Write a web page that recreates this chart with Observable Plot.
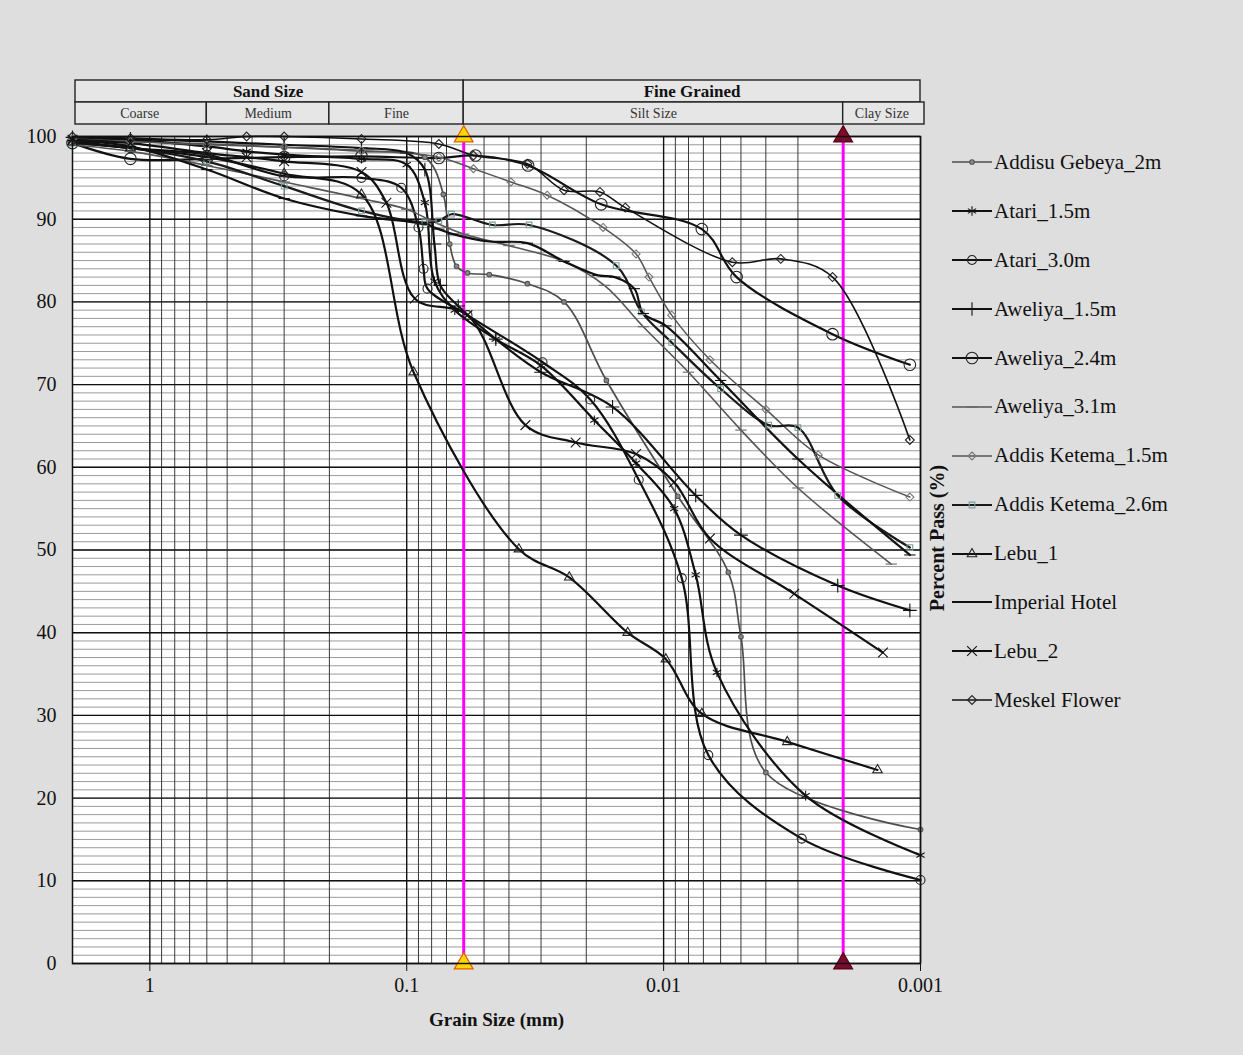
<!DOCTYPE html>
<html>
<head>
<meta charset="utf-8">
<script src="https://cdn.jsdelivr.net/npm/d3@7"></script>
<script src="https://cdn.jsdelivr.net/npm/@observablehq/plot@0.6"></script>
<style>
  body { margin: 0; background: #dedede; }
  #chart { position: relative; width: 1243px; height: 1055px; background: #dedede; font-family: "Liberation Serif", "Times New Roman", serif; }
  #chart svg.plot { position: absolute; left: 0; top: 0; }
  #legend { position: absolute; left: 950px; top: 138px; }
  #legend .row { height: 48.9px; display: flex; align-items: center; font-size: 21px; color: #111; white-space: nowrap; }
  #legend .row svg { display: block; margin-right: 1px; }
</style>
</head>
<body>
<div id="chart"></div>
<script>
// Grain-size distribution curves (percent passing vs. grain size, mm)
const addisuGebeya2m = [[2,99.6],[1.19,99.4],[0.6,99.1],[0.3,98.7],[0.15,98.2],[0.085,97.5],[0.072,93],[0.068,87],[0.064,84.3],[0.058,83.5],[0.0477,83.3],[0.0339,82.2],[0.0244,80.0],[0.0167,70.5],[0.0088,56.5],[0.0056,47.3],[0.005,39.5],[0.004,23.1],[0.001,16.2]];
const atari15m = [[2,99.8],[1.19,99.6],[0.6,98.8],[0.42,98.2],[0.3,97.8],[0.15,97.3],[0.1,96.6],[0.085,92],[0.078,82.5],[0.065,79],[0.045,75.5],[0.03,72.3],[0.0186,65.7],[0.0128,60.5],[0.0091,55],[0.0075,47],[0.0062,35.2],[0.0028,20.3],[0.001,13.1]];
const atari30m = [[2,99.5],[1.19,98.6],[0.6,97.8],[0.3,95.2],[0.15,95.0],[0.105,93.8],[0.09,89],[0.086,84],[0.083,81.6],[0.058,78.4],[0.0296,72.7],[0.0193,68.2],[0.0125,58.5],[0.0085,46.6],[0.0067,25.2],[0.0029,15.1],[0.001,10.1]];
const aweliya15m = [[2,99.9],[1.19,99.7],[0.6,99.4],[0.3,99.0],[0.15,98.6],[0.1,98.0],[0.085,96.0],[0.078,87],[0.074,82],[0.063,79.5],[0.045,75.5],[0.03,71.5],[0.0158,67.3],[0.0075,56.6],[0.005,51.8],[0.0021,45.7],[0.0011,42.7]];
const aweliya24m = [[2,99.2],[1.19,97.3],[0.6,97.3],[0.3,97.5],[0.15,97.6],[0.075,97.4],[0.054,97.7],[0.0337,96.5],[0.0175,91.8],[0.0071,88.8],[0.0052,83.0],[0.0022,76.1],[0.0011,72.4]];
const aweliya31m = [[2,99.0],[1.19,98.2],[0.6,96.5],[0.3,94.5],[0.15,92.5],[0.1,91.2],[0.08,89.8],[0.06,88.2],[0.04,86.8],[0.025,85.0],[0.017,82.0],[0.012,77.0],[0.008,71.5],[0.005,64.5],[0.003,57.5],[0.0013,48.3]];
const addisKetema15m = [[2,99.7],[1.19,99.4],[0.6,99.0],[0.3,98.7],[0.15,98.3],[0.075,97.5],[0.055,96.1],[0.0393,94.5],[0.0284,92.9],[0.0172,89.0],[0.0128,85.8],[0.0114,83.0],[0.0093,78.4],[0.0066,73.0],[0.004,67.0],[0.0025,61.5],[0.0011,56.4]];
const addisKetema26m = [[2,99.2],[1.19,98.6],[0.6,97.0],[0.3,94.0],[0.15,91.0],[0.085,89.6],[0.075,89.8],[0.067,90.6],[0.0464,89.3],[0.0334,89.3],[0.0153,84.4],[0.0122,78.8],[0.0093,75.1],[0.006,69.5],[0.0039,65.1],[0.003,64.8],[0.0021,56.6],[0.0011,50.3]];
const lebu1 = [[2,99.3],[1.19,98.6],[0.6,97.5],[0.3,95.5],[0.15,93.0],[0.094,71.5],[0.0366,50.1],[0.0233,46.7],[0.0138,40.0],[0.0098,36.8],[0.0071,30.2],[0.0033,26.8],[0.00147,23.4]];
const imperialHotel = [[2,99.5],[1.19,98.8],[0.6,96.0],[0.3,92.5],[0.15,90.4],[0.085,89.4],[0.075,88.8],[0.066,88.2],[0.0477,87.3],[0.0339,87.1],[0.0244,84.9],[0.018,83.2],[0.0155,83.0],[0.013,81.6],[0.012,78.6],[0.0098,77.1],[0.006,70.5],[0.003,61.0],[0.0011,49.4]];
const lebu2 = [[2,99.6],[1.19,99.2],[0.6,98.0],[0.42,97.5],[0.3,97.0],[0.15,95.7],[0.12,92.0],[0.093,80.4],[0.058,78.4],[0.0345,65.1],[0.022,63.0],[0.0128,61.6],[0.0091,58.2],[0.0066,51.4],[0.0031,44.7],[0.0014,37.6]];
const meskelFlower = [[2,100],[1.19,99.8],[0.6,99.6],[0.42,100],[0.3,100],[0.15,99.7],[0.075,99.1],[0.055,97.7],[0.0339,96.7],[0.0244,93.5],[0.0177,93.3],[0.0141,91.4],[0.0054,84.8],[0.0035,85.2],[0.0022,83.0],[0.0011,63.3]];

// Soil classification bands (mm)
const majorLabels = ["Sand Size", "Fine Grained"];
const majorEdges = [2, 0.06, 0.001];
const minorLabels = ["Coarse", "Medium", "Fine", "Silt Size", "Clay Size"];
const minorEdges = [2, 0.6, 0.2, 0.06, 0.002, 0.001];

// Sand/silt and silt/clay limits (mm)
const limits = [0.06, 0.002];

// Axis ticks
const xTicks = [1, 0.1, 0.01, 0.001];
const xTickLabels = ["1", "0.1", "0.01", "0.001"];
const yTicks = [0, 10, 20, 30, 40, 50, 60, 70, 80, 90, 100];

const fontFamily = '"Liberation Serif", "Times New Roman", serif';

// a short horizontal bar used as a point marker
const dash = {draw(ctx, size) { const w = Math.sqrt(size) * 0.8; ctx.moveTo(-w, 0); ctx.lineTo(w, 0); }};

const series = [
  {name: "Addisu Gebeya_2m", points: addisuGebeya2m, stroke: "#4d4d4d", width: 1.7, symbol: d3.symbolCircle, r: 2.3, fill: "#888", mstroke: "#555"},
  {name: "Atari_1.5m", points: atari15m, stroke: "#111", width: 2.2, symbol: d3.symbolAsterisk, r: 4.5, fill: "none", mstroke: "#111"},
  {name: "Atari_3.0m", points: atari30m, stroke: "#111", width: 2.2, symbol: d3.symbolCircle, r: 4.5, fill: "none", mstroke: "#222"},
  {name: "Aweliya_1.5m", points: aweliya15m, stroke: "#111", width: 2.2, symbol: d3.symbolPlus, r: 4.5, fill: "none", mstroke: "#111"},
  {name: "Aweliya_2.4m", points: aweliya24m, stroke: "#111", width: 2.2, symbol: d3.symbolCircle, r: 5.8, fill: "none", mstroke: "#222"},
  {name: "Aweliya_3.1m", points: aweliya31m, stroke: "#555", width: 1.6, symbol: dash, r: 4, fill: "none", mstroke: "#666"},
  {name: "Addis Ketema_1.5m", points: addisKetema15m, stroke: "#555", width: 1.5, symbol: d3.symbolDiamond2, r: 3.6, fill: "none", mstroke: "#777"},
  {name: "Addis Ketema_2.6m", points: addisKetema26m, stroke: "#1a1a1a", width: 2.2, symbol: d3.symbolSquare2, r: 3.6, fill: "none", mstroke: "#7f9c9c"},
  {name: "Lebu_1", points: lebu1, stroke: "#111", width: 2.2, symbol: d3.symbolTriangle2, r: 4.5, fill: "none", mstroke: "#222"},
  {name: "Imperial Hotel", points: imperialHotel, stroke: "#111", width: 2.2, symbol: dash, r: 4, fill: "none", mstroke: "#111"},
  {name: "Lebu_2", points: lebu2, stroke: "#111", width: 2.2, symbol: d3.symbolTimes, r: 4.5, fill: "none", mstroke: "#111"},
  {name: "Meskel Flower", points: meskelFlower, stroke: "#111", width: 1.6, symbol: d3.symbolDiamond2, r: 4, fill: "none", mstroke: "#222"}
];

const W = 1243, H = 1055;
const mL = 72, mR = 323, mT = 136, mB = 92;
const xScale = {type: "log", domain: [2, 0.001]};

const minorX = [1, 0.1, 0.01].flatMap(dec => d3.range(2, 10).map(k => +(k * dec / 10).toPrecision(3)));
const minorY = d3.range(0, 101, 1);

// classification header above the chart
const majorBands = majorLabels.map((label, i) => ({label, from: majorEdges[i], to: majorEdges[i + 1]}));
const minorBands = minorLabels.map((label, i) => ({label, from: minorEdges[i], to: minorEdges[i + 1]}));
const cell = {x1: "from", x2: "to", fill: "#e6e6e6", stroke: "#222", strokeWidth: 1.4};

const header = Plot.plot({
  width: W, height: 126,
  marginLeft: mL, marginRight: mR, marginTop: 80, marginBottom: 2,
  x: {...xScale, axis: null},
  y: {type: "band", domain: ["major", "minor"], padding: 0, axis: null},
  style: {background: "transparent", fontFamily, color: "#111", overflow: "visible"},
  marks: [
    Plot.barX(majorBands.slice(0, 1), {...cell, y: () => "major", insetLeft: 3}),
    Plot.barX(majorBands.slice(1), {...cell, y: () => "major"}),
    Plot.barX(minorBands.slice(0, 1), {...cell, y: () => "minor", insetLeft: 3}),
    Plot.barX(minorBands.slice(1, 4), {...cell, y: () => "minor"}),
    Plot.barX(minorBands.slice(4), {...cell, y: () => "minor", insetRight: -4}),
    Plot.text(majorBands, {x: d => Math.sqrt(d.from * d.to), y: () => "major", text: "label", fontWeight: "bold", fontSize: 17, fill: "#111"}),
    Plot.text(minorBands, {x: d => Math.sqrt(d.from * d.to), y: () => "minor", text: "label", fontSize: 14, fill: "#333"})
  ]
});
header.classList.add("plot");

const limitMarks = limits.flatMap((d, i) => [0, 100].map(p => ({d, p, i})));

const lineMarks = series.map(s => Plot.line(s.points, {
  x: d => d[0], y: d => d[1], stroke: s.stroke, strokeWidth: s.width, curve: "catmull-rom"
}));
const dotMarks = series.map(s => Plot.dot(s.points, {
  x: d => d[0], y: d => d[1], symbol: s.symbol, r: s.r, fill: s.fill, stroke: s.mstroke, strokeWidth: 1.1
}));

const main = Plot.plot({
  width: W, height: H,
  marginLeft: mL, marginRight: mR, marginTop: mT, marginBottom: mB,
  x: xScale,
  y: {domain: [0, 100]},
  style: {background: "transparent", fontFamily, color: "#111"},
  marks: [
    Plot.frame({fill: "white", stroke: null}),
    Plot.ruleY(minorY, {stroke: "#8f8f8f", strokeWidth: 0.9}),
    Plot.ruleX(minorX, {stroke: "#3a3a3a", strokeWidth: 1}),
    Plot.ruleY(yTicks, {stroke: "#111", strokeWidth: 1.4}),
    Plot.ruleX(xTicks, {stroke: "#111", strokeWidth: 1.4}),
    Plot.ruleX(limits, {stroke: "#ff00ff", strokeWidth: 3}),
    ...lineMarks,
    ...dotMarks,
    Plot.dot(limitMarks, {x: "d", y: "p", symbol: "triangle", r: 7,
      fill: d => d.i === 0 ? "#ffd800" : "#7a0c2c",
      stroke: d => d.i === 0 ? "#e06000" : "#5a0018", strokeWidth: 1.2}),
    Plot.frame({stroke: "#111", strokeWidth: 1.5}),
    Plot.axisX({ticks: xTicks, tickFormat: d => xTickLabels[xTicks.indexOf(d)], tickSize: 8, tickPadding: 6, fontSize: 20, label: null}),
    Plot.axisY({ticks: yTicks, tickSize: 0, tickPadding: 16, fontSize: 20, label: null}),
    Plot.text(["Grain Size (mm)"], {frameAnchor: "bottom", dy: 62, fontWeight: "bold", fontSize: 19, fill: "#111"}),
    Plot.text(["Percent Pass (%)"], {frameAnchor: "right", textAnchor: "middle", dx: 17, dy: -12, rotate: -90, fontWeight: "bold", fontSize: 20, fill: "#111"})
  ]
});
main.classList.add("plot");

const chart = document.getElementById("chart");
chart.appendChild(main);
chart.appendChild(header);

// legend
const legend = d3.select(chart).append("div").attr("id", "legend");
for (const s of series) {
  const row = legend.append("div").attr("class", "row");
  const svg = row.append("svg").attr("width", 43).attr("height", 20);
  svg.append("line").attr("x1", 2).attr("x2", 42).attr("y1", 10).attr("y2", 10)
    .attr("stroke", s.stroke).attr("stroke-width", s.width);
  svg.append("path").attr("transform", "translate(22,10)")
    .attr("d", d3.symbol(s.symbol, Math.PI * s.r * s.r)())
    .attr("fill", s.fill === "none" ? "white" : s.fill).attr("fill-opacity", s.fill === "none" ? 0 : 1)
    .attr("stroke", s.mstroke).attr("stroke-width", 1.1);
  row.append("span").text(s.name);
}
</script>
</body>
</html>
